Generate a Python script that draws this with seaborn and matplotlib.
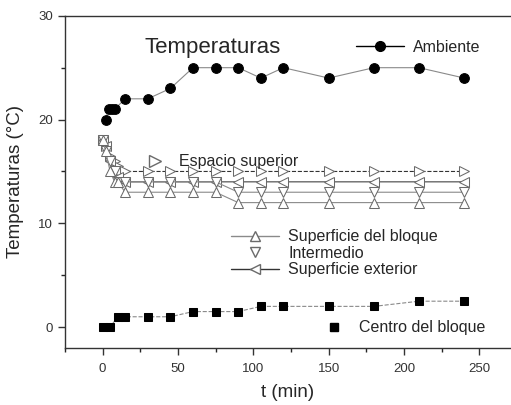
import matplotlib
matplotlib.use('Agg')
import matplotlib.pyplot as plt
from matplotlib.lines import Line2D
from matplotlib.ticker import MultipleLocator
import seaborn as sns
import pandas as pd

# data
t_amb = [2, 4, 6, 8, 15, 30, 45, 60, 75, 90, 105, 120, 150, 180, 210, 240]
ambiente = [20, 21, 21, 21, 22, 22, 23, 25, 25, 25, 24, 25, 24, 25, 25, 24]

t_cen = [0, 5, 10, 15, 30, 45, 60, 75, 90, 105, 120, 150, 180, 210, 240]
centro = [0, 0, 1, 1, 1, 1, 1.5, 1.5, 1.5, 2, 2, 2, 2, 2.5, 2.5]

t_sup = [0, 2, 5, 8, 10, 15, 30, 45, 60, 75, 90, 105, 120, 150, 180, 210, 240]
sup_bloque = [18, 17, 15, 14, 14, 13, 13, 13, 13, 13, 12, 12, 12, 12, 12, 12, 12]
intermedio = [18, 17, 16, 15, 14, 14, 14, 14, 14, 14, 13, 13, 13, 13, 13, 13, 13]
exterior = [18, 17.5, 16, 15, 14.5, 14, 14, 14, 14, 14, 14, 14, 14, 14, 14, 14, 14]
espacio = [18, 17.5, 16.5, 16, 15.5, 15, 15, 15, 15, 15, 15, 15, 15, 15, 15, 15, 15]

sns.set_style('ticks')
plt.rcParams['font.family'] = ['Liberation Sans', 'DejaVu Sans']

fig = plt.figure(figsize=(5.11, 4.05), dpi=100)
ax = fig.add_axes([0.127, 0.141, 0.873, 0.820])

gray = '#8a8a8a'
tri_edge = '#6a6a6a'

sns.lineplot(x=t_sup, y=espacio, ax=ax, color='#333333', linewidth=0.8, linestyle='--',
             marker='>', markersize=7.5, markerfacecolor='white', markeredgecolor=tri_edge)
sns.lineplot(x=t_sup, y=exterior, ax=ax, color='#444444', linewidth=0.8,
             marker='<', markersize=7.5, markerfacecolor='white', markeredgecolor=tri_edge)
sns.lineplot(x=t_sup, y=intermedio, ax=ax, color=gray, linewidth=0.8,
             marker='v', markersize=7.5, markerfacecolor='white', markeredgecolor=tri_edge)
sns.lineplot(x=t_sup, y=sup_bloque, ax=ax, color=gray, linewidth=0.8,
             marker='^', markersize=7.5, markerfacecolor='white', markeredgecolor=tri_edge)
sns.lineplot(x=t_amb, y=ambiente, ax=ax, color=gray, linewidth=0.8,
             marker='o', markersize=7, markerfacecolor='black', markeredgecolor='black')
sns.lineplot(x=t_cen, y=centro, ax=ax, color=gray, linewidth=0.8, linestyle='--',
             marker='s', markersize=6, markerfacecolor='black', markeredgecolor='black')

ax.set_xlim(-25, 271)
ax.set_ylim(-2, 30)
ax.xaxis.set_major_locator(MultipleLocator(50))
ax.xaxis.set_minor_locator(MultipleLocator(25))
ax.yaxis.set_major_locator(MultipleLocator(10))
ax.yaxis.set_minor_locator(MultipleLocator(5))
ax.tick_params(which='major', direction='out', length=5, width=1, labelsize=9.5, colors='#333333')
ax.tick_params(which='minor', direction='out', length=3, width=1)
ax.tick_params(axis='x', pad=6)
for s in ['left', 'bottom', 'top']:
    ax.spines[s].set_color('#333333')
    ax.spines[s].set_linewidth(1)
ax.spines['right'].set_visible(False)

ax.set_xlabel('t (min)', fontsize=13.5, labelpad=6)
ax.set_ylabel('Temperaturas (°C)', fontsize=13.5, labelpad=10)

ax.text(0.178, 0.905, 'Temperaturas', transform=ax.transAxes, fontsize=16, va='center')
ax.text(0.255, 0.562, 'Espacio superior', transform=ax.transAxes, fontsize=11.5, va='center')
ax.plot([35], [16], marker='>', markersize=8, markerfacecolor='white', markeredgecolor=tri_edge,
        linestyle='none')

h_amb = [Line2D([], [], color='black', lw=1, marker='o', markersize=7,
                markerfacecolor='black')]
leg1 = ax.legend(h_amb, ['Ambiente'], loc='center left', bbox_to_anchor=(0.62, 0.905),
                 frameon=False, fontsize=11.5, handlelength=3, handletextpad=0.6)
ax.add_artist(leg1)

h_tri = [Line2D([], [], color=gray, lw=1, marker='^', markersize=7.5,
                markerfacecolor='white', markeredgecolor=tri_edge),
         Line2D([], [], color='none', lw=0, marker='v', markersize=7.5,
                markerfacecolor='white', markeredgecolor=tri_edge),
         Line2D([], [], color='#333333', lw=1, marker='<', markersize=7.5,
                markerfacecolor='white', markeredgecolor=tri_edge)]
leg2 = ax.legend(h_tri, ['Superficie del bloque', 'Intermedio', 'Superficie exterior'],
                 loc='center left', bbox_to_anchor=(0.34, 0.285), frameon=False,
                 fontsize=11.5, handlelength=3, handletextpad=0.6, labelspacing=0.1)
ax.add_artist(leg2)

h_cen = [Line2D([], [], color='none', lw=0, marker='s', markersize=6,
                markerfacecolor='black', markeredgecolor='black')]
ax.legend(h_cen, ['Centro del bloque'], loc='center left', bbox_to_anchor=(0.535, 0.06),
          frameon=False, fontsize=11.5, handlelength=2, handletextpad=0.6)

fig.savefig('out.png', dpi=100)
